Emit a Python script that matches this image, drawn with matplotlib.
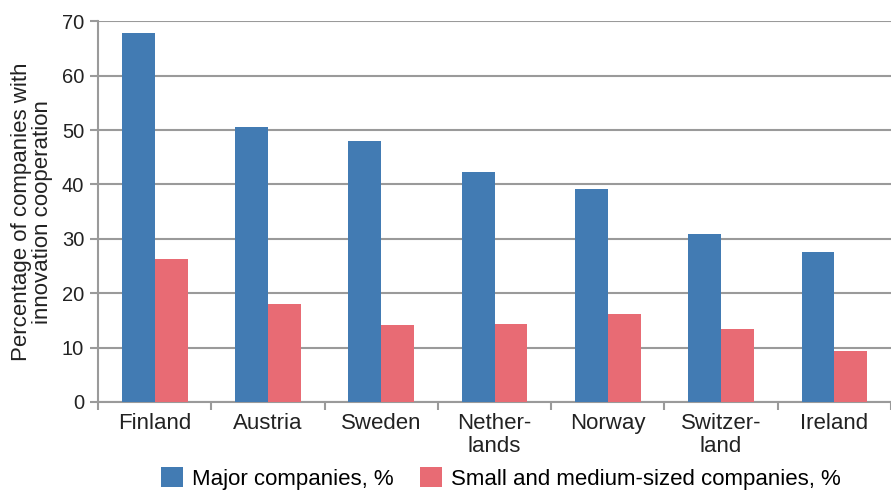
import numpy as np
import matplotlib
matplotlib.use("Agg")
import matplotlib.pyplot as plt

countries = ["Finland", "Austria", "Sweden", "Nether-\nlands", "Norway",
             "Switzer-\nland", "Ireland"]
major = [67.8, 50.6, 47.9, 42.2, 39.1, 30.8, 27.6]
sme = [26.3, 18.1, 14.1, 14.4, 16.2, 13.4, 9.3]

blue = "#427bb3"
pink = "#e86b74"
grey = "#9a9a9a"

plt.rcParams["font.family"] = ["Liberation Sans", "DejaVu Sans"]

fig = plt.figure(figsize=(8.91, 4.91), dpi=100)
ax = fig.add_axes([0.110, 0.1813, 0.89, 0.7753])

x = np.arange(len(countries))
w = 0.29
ax.bar(x - w / 2, major, w, color=blue, label="Major companies, %", zorder=3)
ax.bar(x + w / 2, sme, w, color=pink,
       label="Small and medium-sized companies, %", zorder=3)

ax.set_ylim(0, 70)
ax.set_xlim(-0.5, 6.44)
ax.set_yticks(range(0, 71, 10))
ax.tick_params(axis="y", length=6, width=1.5, color=grey, labelsize=14.5,
               pad=4, labelcolor="#222222")
ax.yaxis.grid(True, color=grey, linewidth=1.5, zorder=0)

ax.set_xticks(x)
ax.set_xticklabels(countries, fontsize=16, color="#222222", linespacing=1.1)
ax.tick_params(axis="x", which="major", length=0, pad=8)
ax.set_xticks(np.arange(-0.5, 7, 1), minor=True)
ax.tick_params(axis="x", which="minor", length=6, width=1.5, color=grey)

for side in ("top", "right"):
    ax.spines[side].set_visible(False)
for side in ("left", "bottom"):
    ax.spines[side].set_color(grey)
    ax.spines[side].set_linewidth(1.5)

ax.set_ylabel("Percentage of companies with\ninnovation cooperation",
              fontsize=16, color="#222222", labelpad=6, linespacing=1.05)

fig.legend(loc="center", bbox_to_anchor=(0.562, 0.026), ncol=2,
           frameon=False, fontsize=16, handlelength=1.0, handleheight=1.0,
           handletextpad=0.4, columnspacing=1.2)

fig.savefig("out.png", dpi=100)
